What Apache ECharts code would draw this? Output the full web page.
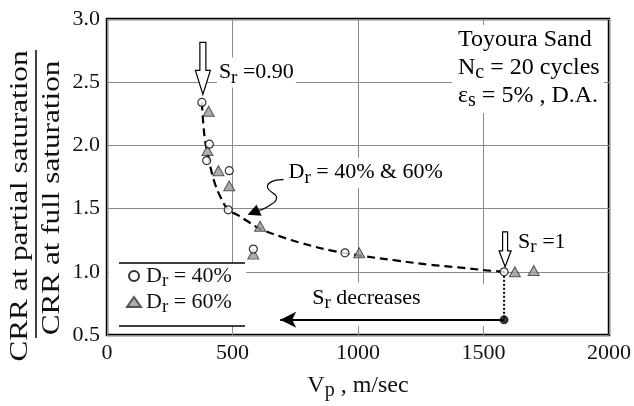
<!DOCTYPE html>
<html><head><meta charset="utf-8">
<script src="https://cdn.jsdelivr.net/npm/echarts@6/dist/echarts.min.js"></script>
<style>html,body{margin:0;padding:0;background:#fff}#c{width:634px;height:406px}
#pre{position:absolute;left:-9999px;top:0;font-family:"Liberation Serif";font-size:22px}</style>
</head><body><div id="pre">Liberation Serif preload ε 0123</div><div id="c"></div>
<script>
// Data
const dr40_vp  = [378, 408, 397, 487, 483, 583, 948, 1582];
const dr40_crr = [2.34, 2.01, 1.88, 1.80, 1.49, 1.18, 1.15, 1.00];
const dr60_vp  = [405, 400, 444, 487, 610, 583, 1005, 1625, 1700];
const dr60_crr = [2.27, 1.96, 1.80, 1.68, 1.36, 1.14, 1.15, 1.00, 1.01];
const fit_vp   = [378, 380, 385, 392, 402, 412, 428, 450, 483, 520, 560, 610, 690, 770, 890, 1020, 1150, 1290, 1400, 1510, 1582];
const fit_crr  = [2.34, 2.27, 2.14, 2.02, 1.93, 1.83, 1.71, 1.60, 1.49, 1.45, 1.40, 1.34, 1.28, 1.23, 1.17, 1.125, 1.09, 1.055, 1.035, 1.012, 1.00];
const drop_vp  = [1582, 1582];
const drop_crr = [1.00, 0.62];
const arrow_end_vp = 690;
const xTicks = [0, 500, 1000, 1500, 2000];
const yTicks = [0.5, 1.0, 1.5, 2.0, 2.5, 3.0];

const FF = 'Liberation Serif';
const base = (size) => ({fontFamily: FF, fontSize: size, fontWeight: 'normal', fontStyle: 'normal'});
const sub = (a, b, c) => '{m|' + a + '}{s|' + b + '}{m|' + c + '}';
function rich(size) {
  return {
    m: Object.assign(base(size), {lineHeight: 30, color: '#111'}),
    s: Object.assign(base(Math.round(size * 0.85)), {lineHeight: 14, verticalAlign: 'bottom', color: '#111'})
  };
}
const zip = (a, b) => a.map((v, i) => [v, b[i]]);
let chart = null;

function render() {
  if (chart) chart.dispose();
  chart = echarts.init(document.getElementById('c'), null, {renderer: 'canvas'});
  chart.setOption({
    animation: false,
    backgroundColor: '#fff',
    textStyle: base(12),
    grid: {left: 107, right: 25, top: 19, bottom: 71, show: true, borderColor: '#000', borderWidth: 2.5, backgroundColor: 'transparent'},
    xAxis: {
      type: 'value', min: xTicks[0], max: xTicks[xTicks.length - 1], interval: 500,
      axisLine: {show: false}, axisTick: {show: false},
      splitLine: {show: true, lineStyle: {color: '#8a8a8a', width: 1}},
      axisLabel: Object.assign(base(22), {color: '#111', margin: 7, formatter: v => String(v)}),
      name: sub('V', 'p', ' , m/sec'), nameLocation: 'middle', nameGap: 36,
      nameTextStyle: Object.assign(base(24), {rich: rich(24)})
    },
    yAxis: {
      type: 'value', min: yTicks[0], max: yTicks[yTicks.length - 1], interval: 0.5,
      axisLine: {show: false}, axisTick: {show: false},
      splitLine: {show: true, lineStyle: {color: '#8a8a8a', width: 1}},
      axisLabel: Object.assign(base(22), {color: '#111', margin: 7, formatter: v => v.toFixed(1)})
    },
    legend: {
      data: ['40', '60'], orient: 'vertical', left: 126, top: 265, itemGap: 0, padding: 0,
      itemWidth: 14, itemHeight: 10,
      formatter: n => sub('D', 'r', ' = ' + n + '%'),
      textStyle: Object.assign(base(22), {rich: rich(22)})
    },
    series: [
      {name: 'fit', type: 'line', data: zip(fit_vp, fit_crr), smooth: 0.4, symbol: 'none',
       lineStyle: {color: '#000', width: 2.2, type: [8, 5]}, z: 3, silent: true},
      {name: 'drop', type: 'line', data: zip(drop_vp, drop_crr), symbol: 'none',
       lineStyle: {color: '#000', width: 2, type: [2, 2]}, z: 3,
       markLine: {silent: true, symbol: ['none', 'arrow'], symbolSize: [12, 16], label: {show: false},
         lineStyle: {color: '#000', width: 2, type: 'solid'},
         data: [[{coord: [drop_vp[1], drop_crr[1]]}, {coord: [arrow_end_vp, drop_crr[1]]}]]}},
      {name: 'dot', type: 'scatter', data: [[drop_vp[1], drop_crr[1]]], symbol: 'circle', symbolSize: 9,
       itemStyle: {color: '#000'}, z: 5},
      {name: '60', type: 'scatter', data: zip(dr60_vp, dr60_crr), symbol: 'triangle', symbolSize: [11, 10],
       itemStyle: {color: '#9a9a9a', borderColor: '#333', borderWidth: 1}, z: 5},
      {name: '40', type: 'scatter', data: zip(dr40_vp, dr40_crr), symbol: 'circle', symbolSize: 8,
       itemStyle: {color: '#fff', borderColor: '#000', borderWidth: 1.2}, z: 6}
    ]
  });

  const P = (x, y) => chart.convertToPixel({gridIndex: 0}, [x, y]);
  function hollowArrow(tip, headL, headW, shaftW, total) {
    const [tx, ty] = tip;
    return {type: 'polygon', z: 20,
      shape: {points: [[tx, ty], [tx - headW, ty - headL], [tx - shaftW, ty - headL], [tx - shaftW, ty - total],
                       [tx + shaftW, ty - total], [tx + shaftW, ty - headL], [tx + headW, ty - headL]]},
      style: {fill: '#fff', stroke: '#000', lineWidth: 1.2}};
  }
  function txt(x, y, s, size) {
    return {type: 'text', z: 20, x: x, y: y,
      style: Object.assign(base(size), {text: s, rich: rich(size), align: 'left', verticalAlign: 'middle',
              backgroundColor: '#fff', padding: [0, 2, 0, 2]})};
  }
  const c1 = P(dr40_vp[0], dr40_crr[0]);
  const c8 = P(dr40_vp[7], dr40_crr[7]);
  const tipDr = P(560, 1.46);
  const aStart = P(arrow_end_vp, drop_crr[1]);
  const g = [];
  g.push({type: 'rect', z: 1, shape: {x: 109, y: 263, width: 137, height: 63}, style: {fill: '#fff'}});
  g.push({type: 'rect', z: 1, shape: {x: 252, y: 284, width: 246, height: 42}, style: {fill: '#fff'}});
  g.push({type: 'rect', z: 1, shape: {x: 452, y: 28, width: 152, height: 85}, style: {fill: '#fff'}});
  g.push({type: 'line', z: 20, shape: {x1: 119, y1: 263, x2: 245, y2: 263}, style: {stroke: '#000', lineWidth: 1.5}});
  g.push({type: 'line', z: 20, shape: {x1: 119, y1: 326, x2: 245, y2: 326}, style: {stroke: '#000', lineWidth: 1.5}});
  g.push(hollowArrow([c1[0] + 1, c1[1] - 8], 24, 7.5, 3, 52));
  g.push(hollowArrow([c8[0] + 1, c8[1] - 5], 16, 6, 2.5, 35));
  g.push(txt(c1[0] + 15, c1[1] - 30, sub('S', 'r', ' =0.90'), 22));
  g.push(txt(c8[0] + 12, c8[1] - 30, sub('S', 'r', ' =1'), 22));
  const [ax, ay] = tipDr;
  g.push({type: 'polyline', z: 20, shape: {smooth: 0.5, points: [[ax + 36, ay - 34], [ax + 24, ay - 32], [ax + 20, ay - 26], [ax + 29, ay - 16], [ax + 20, ay - 7], [ax + 10, ay - 3]]},
          style: {stroke: '#000', lineWidth: 1.2, fill: null}});
  g.push({type: 'polygon', z: 20, shape: {points: [[ax, ay + 1], [ax + 14, ay + 2], [ax + 9, ay - 9]]}, style: {fill: '#000'}});
  g.push(txt(ax + 39, ay - 41, sub('D', 'r', ' = 40% & 60%'), 22));
  g.push(txt(aStart[0] + 30, aStart[1] - 22, sub('S', 'r', ' decreases'), 22));
  g.push(txt(456, 40, '{m|Toyoura Sand}', 24));
  g.push(txt(456, 68, sub('N', 'c', ' = 20 cycles'), 24));
  g.push(txt(456, 96, sub('ε', 's', ' = 5% , D.A.'), 24));
  g.push({type: 'text', z: 20, x: 20, y: 206, rotation: Math.PI / 2, scaleX: 1.2,
          style: Object.assign(base(26), {text: 'CRR at partial saturation', fill: '#111', align: 'center', verticalAlign: 'middle'})});
  g.push({type: 'line', z: 20, shape: {x1: 36, y1: 50, x2: 36, y2: 338}, style: {stroke: '#000', lineWidth: 1.5}});
  g.push({type: 'text', z: 20, x: 52, y: 198, rotation: Math.PI / 2, scaleX: 1.2,
          style: Object.assign(base(26), {text: 'CRR at full saturation', fill: '#111', align: 'center', verticalAlign: 'middle'})});
  chart.setOption({graphic: {elements: g}});
}

render();
if (document.fonts && document.fonts.load) {
  Promise.all([document.fonts.load('22px "Liberation Serif"'), document.fonts.load('26px "Liberation Serif"')])
    .then(() => document.fonts.ready).then(render).catch(() => {});
}
setTimeout(render, 300);
</script></body></html>
